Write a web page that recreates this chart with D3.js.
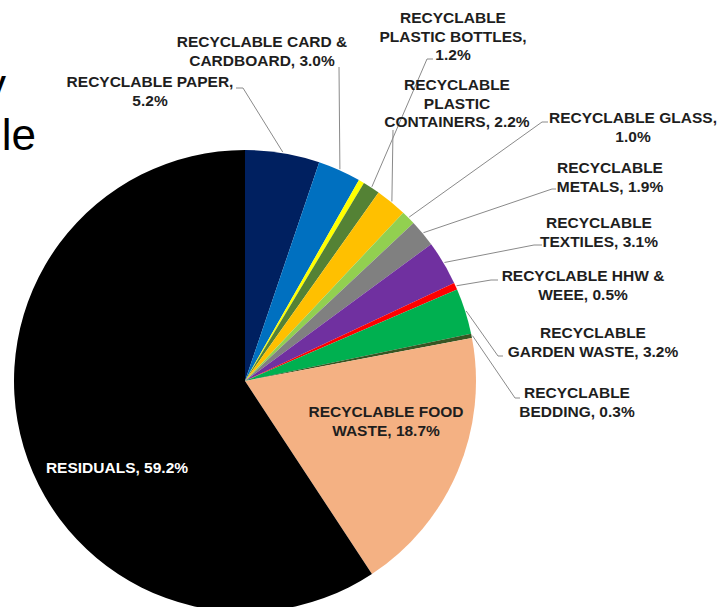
<!DOCTYPE html>
<html>
<head>
<meta charset="utf-8">
<script src="https://cdn.jsdelivr.net/npm/d3@7"></script>
<style>
  body { margin: 0; background: #fff; }
  svg { display: block; }
  .lbl { font-family: "Liberation Sans", Arial, sans-serif; font-weight: bold; font-size: 15.5px; fill: #1e1e1e; }
  .title { font-family: "Liberation Sans", Arial, sans-serif; font-size: 44px; fill: #000; }
</style>
</head>
<body>
<div id="container"></div>
<script>
// data
var categories = [
  "RECYCLABLE PAPER", "RECYCLABLE CARD & CARDBOARD", "",
  "RECYCLABLE PLASTIC BOTTLES", "RECYCLABLE PLASTIC CONTAINERS",
  "RECYCLABLE GLASS", "RECYCLABLE METALS", "RECYCLABLE TEXTILES",
  "RECYCLABLE HHW & WEEE", "RECYCLABLE GARDEN WASTE", "RECYCLABLE BEDDING",
  "RECYCLABLE FOOD WASTE", "RESIDUALS"
];
var values = [5.2, 3.0, 0.4, 1.2, 2.2, 1.0, 1.9, 3.1, 0.5, 3.2, 0.3, 18.7, 59.2];
var titleFragments = ["y", "le"];

var colors = ["#002060", "#0070c0", "#ffff00", "#548235", "#ffc000", "#92d050",
  "#808080", "#7030a0", "#ff0000", "#00b050", "#375623", "#f4b183", "#000000"];

// label layout: center x, first baseline, words per line, leader anchor/elbow
var layout = [
  {x: 150, y: 87, words: [2, 1], a: [236, 88], e: [243, 88]},
  {x: 262, y: 47, words: [3, 2], a: [339, 67]},
  null,
  {x: 453, y: 23, words: [1, 2, 1], a: [433, 59], e: [427, 59]},
  {x: 457, y: 90, words: [1, 1, 2], a: [393, 130]},
  {x: 633, y: 123, words: [2, 1], a: [548, 122], e: [542, 122]},
  {x: 610, y: 173, words: [1, 2], a: [556, 189], e: [552, 189]},
  {x: 599, y: 228, words: [1, 2], a: [542, 245], e: [534, 245]},
  {x: 583, y: 281, words: [3, 2], a: [498, 280], e: [491, 280]},
  {x: 593, y: 338, words: [1, 3], a: [503, 356], e: [498, 356]},
  {x: 577, y: 398, words: [1, 2], a: [520, 398], e: [515, 398]},
  {x: 386, y: 417, words: [2, 2], inside: true},
  {x: 117, y: 473, words: [2], inside: true, fill: "#fff"}
];

var width = 723, height = 607;
var cx = 245, cy = 381, radius = 231;
var lineHeight = 18.5;

var svg = d3.select("#container")
  .append("svg")
    .attr("width", width)
    .attr("height", height);

// cut-off slide title on the left
svg.selectAll(".title")
    .data(titleFragments)
  .enter().append("text")
    .attr("class", "title")
    .attr("text-anchor", "end")
    .attr("x", function(d, i){ return i == 0 ? 6 : 36; })
    .attr("y", function(d, i){ return i == 0 ? 100 : 150; })
    .text(function(d){ return d; });

var pie = d3.pie().sort(null).value(function(d){ return d; });
var arcs = pie(values);

var arc = d3.arc().innerRadius(0).outerRadius(radius);
var edgeArc = d3.arc().innerRadius(radius + 1).outerRadius(radius + 1);

var g = svg.append("g")
  .attr("transform", "translate(" + cx + "," + cy + ")");

g.selectAll(".slice")
    .data(arcs)
  .enter().append("path")
    .attr("class", "slice")
    .attr("d", arc)
    .attr("fill", function(d, i){ return colors[i]; });

// leader lines
arcs.forEach(function(d, i){
  var l = layout[i];
  if(!l || l.inside) return;
  var c = edgeArc.centroid(d);
  var pts = [l.a];
  if(l.e) pts.push(l.e);
  pts.push([c[0] + cx, c[1] + cy]);
  svg.append("path")
    .attr("d", d3.line()(pts))
    .attr("fill", "none")
    .attr("stroke", "#8a8a8a")
    .attr("stroke-width", 1);
});

// labels
arcs.forEach(function(d, i){
  var l = layout[i];
  if(!l) return;
  var words = (categories[i] + ", " + values[i].toFixed(1) + "%").split(" ");
  var lines = [], k = 0;
  l.words.forEach(function(n){
    lines.push(words.slice(k, k + n).join(" "));
    k += n;
  });
  var t = svg.append("text")
    .attr("class", "lbl")
    .attr("text-anchor", "middle")
    .style("fill", l.fill || null);
  lines.forEach(function(s, j){
    t.append("tspan")
      .attr("x", l.x)
      .attr("y", l.y + j * lineHeight)
      .text(s);
  });
});
</script>
</body>
</html>
